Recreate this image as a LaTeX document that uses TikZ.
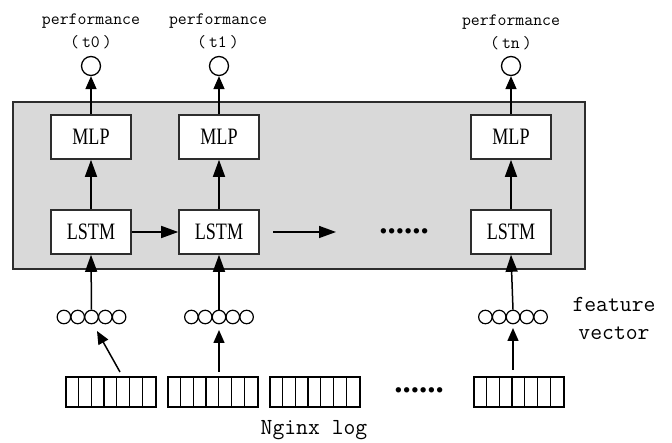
\documentclass[tikz,border=0pt]{standalone}
\usepackage{fontspec}
\newfontfamily\boxfont[FakeStretch=0.77]{Liberation Serif}
\newfontfamily\dotfont{Liberation Serif}
\usetikzlibrary{arrows.meta}
\definecolor{panelgrey}{RGB}{217,217,217}
\definecolor{edgegrey}{RGB}{45,45,45}

\begin{document}
\begin{tikzpicture}[x=1pt,y=-1pt,
  cell/.style={draw=edgegrey, fill=white, line width=1.6pt, minimum width=80pt,
    minimum height=44pt, inner sep=0pt, font=\boxfont\fontsize{23.5}{26}\selectfont},
  arr/.style={-{Triangle[length=17pt,width=12pt]}, line width=1.5pt},
  toparr/.style={-{Triangle[length=13pt,width=11pt]}, line width=1.5pt},
  outc/.style={circle, draw, line width=1.3pt, minimum size=19pt, inner sep=0pt},
  lbl/.style={font=\ttfamily\fontsize{17.3}{20}\selectfont, inner sep=0pt},
  biglbl/.style={font=\ttfamily\fontsize{23}{26}\selectfont, inner sep=0pt},
  unit/.style={circle, draw, line width=1.2pt, minimum size=13.5pt, inner sep=0pt},
  logbox/.style={draw, line width=1.2pt, minimum width=90pt, minimum height=30pt, inner sep=0pt},
  dots/.style={font=\dotfont\bfseries\fontsize{33}{36}\selectfont, inner sep=0pt},
]
\useasboundingbox (0,0) rectangle (672,443);

% shaded panel holding the recurrent network
\node[draw=edgegrey, fill=panelgrey, line width=1.6pt, minimum width=572pt,
  minimum height=167pt, inner sep=0pt] (panel) at (299,185.5) {};

% MLP and LSTM cells with their outputs
\foreach \n/\x in {1/91, 2/219, 3/511} {
  \node[cell] (mlp\n) at (\x,137) {MLP};
  \node[cell] (lstm\n) at (\x,232) {LSTM};
  \node[outc] (o\n) at (\x,66) {};
}

% output labels
\node[lbl] (p1) at (91,21) {performance};
\node[lbl] (q1) at (91,42) {(\hspace{3pt}t0\hspace{3pt})};
\node[lbl] (p2) at (218,21) {performance};
\node[lbl] (q2) at (218,42) {(\hspace{3pt}t1\hspace{3pt})};
\node[lbl] (p3) at (511,22) {performance};
\node[lbl] (q3) at (511,43) {(\hspace{3pt}tn\hspace{3pt})};

% feature vectors: five units each
\foreach \n/\x in {1/91.5, 2/219, 3/513} {
  \foreach \k in {-2,...,2} {
    \node[unit] (v\n u\k) at ({\x+\k*13.8},317) {};
  }
}

% Nginx log records
\foreach \n/\x in {1/111, 2/213, 3/315, 4/519} {
  \node[logbox] (log\n) at (\x,392) {};
  \foreach \k in {1,...,6}
    \draw[line width=1.2pt] ([xshift={\k*90/7}]log\n.north west) -- ([xshift={\k*90/7}]log\n.south west);
}

% ellipses
\node[dots] (dotsA) at (404,231) {......};
\node[dots] (dotsB) at (419,390) {......};

% text labels
\node[biglbl] (feat) at (614,304) {feature};
\node[biglbl] (vec) at (614,333) {vector};
\node[biglbl] (nginx) at (314,430) {Nginx log};

% connector end points
\coordinate (s1) at (120,372);
\coordinate (e1) at (97,331);
\coordinate (s2) at (219,372);
\coordinate (e2) at (219,330);
\coordinate (s3) at (513,370);
\coordinate (e3) at (513,328);
\coordinate (hA) at (273,232);
\coordinate (hB) at (336,232);

% connectors
\foreach \n in {1,2,3} {
  \draw[toparr] (mlp\n.north) -- (o\n.south);
  \draw[arr] (lstm\n.north) -- (mlp\n.south);
  \draw[arr] (v\n u0.north) -- (lstm\n.south);
  \draw[toparr] (s\n) -- (e\n);
}
\draw[arr] (lstm1.east) -- (lstm2.west);
\draw[arr] (hA) -- (hB);

\end{tikzpicture}
\end{document}
